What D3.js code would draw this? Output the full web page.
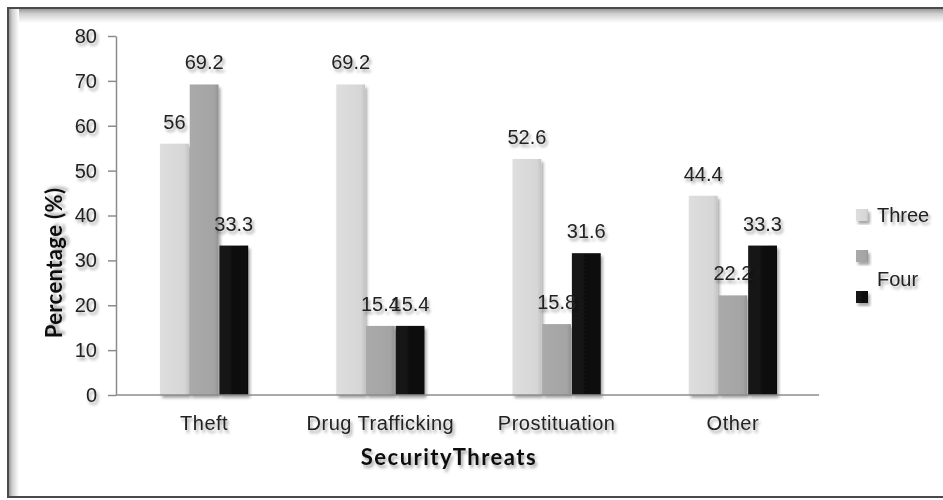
<!DOCTYPE html>
<html>
<head>
<meta charset="utf-8">
<script src="https://cdn.jsdelivr.net/npm/d3@7"></script>
<style>
  html, body { margin: 0; padding: 0; background: #fff; }
  svg { display: block; }
</style>
</head>
<body>
<svg id="chart" width="943" height="500"></svg>
<script>
// Security threats by group: percentage of respondents
const categories = ["Theft", "Drug Trafficking", "Prostituation", "Other"];
const seriesNames = ["Three", "Middle", "Four"];
const threeValues = [56, 69.2, 52.6, 44.4];
const middleValues = [69.2, 15.4, 15.8, 22.2];
const fourValues = [33.3, 15.4, 31.6, 33.3];
const yTicks = [0, 10, 20, 30, 40, 50, 60, 70, 80];
const legendLabels = [{ text: "Three", slot: 0 }, { text: "Four", slot: 1.55 }];

const seriesValues = [threeValues, middleValues, fourValues];
const rows = categories.map((c, i) => ({
  category: c,
  values: seriesNames.map((s, j) => ({ series: s, value: seriesValues[j][i] }))
}));

const svg = d3.select("#chart");
const defs = svg.append("defs");

// soft drop shadow used for marks and text
const shadow = defs.append("filter").attr("id", "shadow")
  .attr("x", "-20%").attr("y", "-20%").attr("width", "150%").attr("height", "150%");
shadow.append("feDropShadow").attr("dx", 2).attr("dy", 3)
  .attr("stdDeviation", 1.8).attr("flood-color", "#000").attr("flood-opacity", 0.35);

// horizontal shading for each series colour
const baseColors = { Three: ["#dedede", "#d6d6d6", "#c4c4c4"],
                     Middle: ["#aaaaaa", "#a4a4a4", "#939393"],
                     Four: ["#151515", "#0e0e0e", "#050505"] };
seriesNames.forEach((s, i) => {
  const g = defs.append("linearGradient").attr("id", "grad" + i)
    .attr("x1", "0").attr("x2", "1").attr("y1", "0").attr("y2", "0");
  g.append("stop").attr("offset", "0%").attr("stop-color", baseColors[s][0]);
  g.append("stop").attr("offset", "85%").attr("stop-color", baseColors[s][1]);
  g.append("stop").attr("offset", "100%").attr("stop-color", baseColors[s][2]);
});

// frame with inner bevel shading on top and left
const topGrad = defs.append("linearGradient").attr("id", "topShade")
  .attr("x1", "0").attr("x2", "0").attr("y1", "0").attr("y2", "1");
topGrad.append("stop").attr("offset", "0%").attr("stop-color", "#9a9a9a");
topGrad.append("stop").attr("offset", "35%").attr("stop-color", "#d0d0d0");
topGrad.append("stop").attr("offset", "100%").attr("stop-color", "#ffffff");
const leftGrad = defs.append("linearGradient").attr("id", "leftShade")
  .attr("x1", "0").attr("x2", "1").attr("y1", "0").attr("y2", "0");
leftGrad.append("stop").attr("offset", "0%").attr("stop-color", "#9a9a9a");
leftGrad.append("stop").attr("offset", "35%").attr("stop-color", "#d0d0d0");
leftGrad.append("stop").attr("offset", "100%").attr("stop-color", "#ffffff");

svg.append("rect").attr("x", 9).attr("y", 9).attr("width", 940).attr("height", 14)
  .attr("fill", "url(#topShade)");
svg.append("rect").attr("x", 9).attr("y", 9).attr("width", 10).attr("height", 487)
  .attr("fill", "url(#leftShade)");
svg.append("rect").attr("x", 8).attr("y", 8).attr("width", 945).attr("height", 489)
  .attr("fill", "none").attr("stroke", "#4a4a4a").attr("stroke-width", 2);

// scales
const x0 = d3.scaleBand().domain(categories).range([116, 821])
  .paddingInner(0.5).paddingOuter(0.25);
const x1 = d3.scaleBand().domain(seriesNames).range([0, x0.bandwidth()]).paddingInner(0.03);
const y = d3.scaleLinear().domain([0, 80]).range([395, 36]);

const fontFamily = "Liberation Sans, Arial, sans-serif";
const labelSize = 20;

// y axis
const yAxis = svg.append("g").attr("transform", "translate(116,0)")
  .call(d3.axisLeft(y).tickValues(yTicks).tickSize(8).tickPadding(11).tickSizeOuter(0));
yAxis.select(".domain").attr("stroke", "#8c8c8c").attr("stroke-width", 1.5);
yAxis.selectAll(".tick line").attr("stroke", "#8c8c8c").attr("stroke-width", 1.5);
yAxis.selectAll(".tick text").attr("font-family", fontFamily).attr("font-size", labelSize)
  .attr("fill", "#222").attr("filter", "url(#shadow)");

// bars
const groups = svg.append("g").selectAll("g").data(rows).join("g")
  .attr("transform", d => `translate(${x0(d.category)},0)`);
groups.selectAll("rect").data(d => d.values).join("rect")
  .attr("x", d => x1(d.series))
  .attr("width", x1.bandwidth())
  .attr("y", d => y(d.value))
  .attr("height", d => y(0) - y(d.value))
  .attr("fill", d => `url(#grad${seriesNames.indexOf(d.series)})`)
  .attr("filter", "url(#shadow)");

// x axis line and category labels
const xAxis = svg.append("g").attr("transform", `translate(0,${y(0)})`)
  .call(d3.axisBottom(x0).tickSize(0).tickPadding(21).tickSizeOuter(0));
xAxis.select(".domain").attr("stroke", "#8c8c8c").attr("stroke-width", 1.5)
  .attr("d", "M116,0H819");
xAxis.selectAll(".tick text").attr("font-family", fontFamily).attr("font-size", labelSize)
  .attr("letter-spacing", 0.5)
  .attr("fill", "#222").attr("filter", "url(#shadow)");

// value labels
groups.selectAll("text.val").data(d => d.values).join("text")
  .attr("class", "val")
  .attr("x", d => x1(d.series) + x1.bandwidth() / 2)
  .attr("y", d => y(d.value) - 15)
  .attr("text-anchor", "middle")
  .attr("font-family", fontFamily).attr("font-size", labelSize).attr("fill", "#222")
  .attr("filter", "url(#shadow)")
  .text(d => d.value);

// axis titles
svg.append("text")
  .attr("transform", "translate(62,263) rotate(-90)")
  .attr("text-anchor", "middle")
  .attr("font-family", "Lato, sans-serif").attr("font-weight", 700).attr("font-size", 22)
  .attr("letter-spacing", 0.4)
  .attr("fill", "#111").attr("filter", "url(#shadow)")
  .text("Percentage (%)");
svg.append("text")
  .attr("x", 449).attr("y", 465)
  .attr("text-anchor", "middle")
  .attr("font-family", "Lato, sans-serif").attr("font-weight", 700).attr("font-size", 22)
  .attr("letter-spacing", 1.5).attr("word-spacing", -6)
  .attr("fill", "#111").attr("filter", "url(#shadow)")
  .text("Security Threats");

// legend
const legendX = 856, legendY0 = 209, legendStep = 41;
const legend = svg.append("g");
legend.selectAll("rect").data(seriesNames).join("rect")
  .attr("x", legendX)
  .attr("y", (d, i) => legendY0 + i * legendStep)
  .attr("width", 12).attr("height", 12)
  .attr("fill", (d, i) => `url(#grad${i})`)
  .attr("filter", "url(#shadow)");
legend.selectAll("text").data(legendLabels).join("text")
  .attr("x", legendX + 21)
  .attr("y", d => legendY0 + d.slot * legendStep + 13)
  .attr("font-family", fontFamily).attr("font-size", labelSize).attr("fill", "#222")
  .attr("filter", "url(#shadow)")
  .text(d => d.text);
</script>
</body>
</html>
